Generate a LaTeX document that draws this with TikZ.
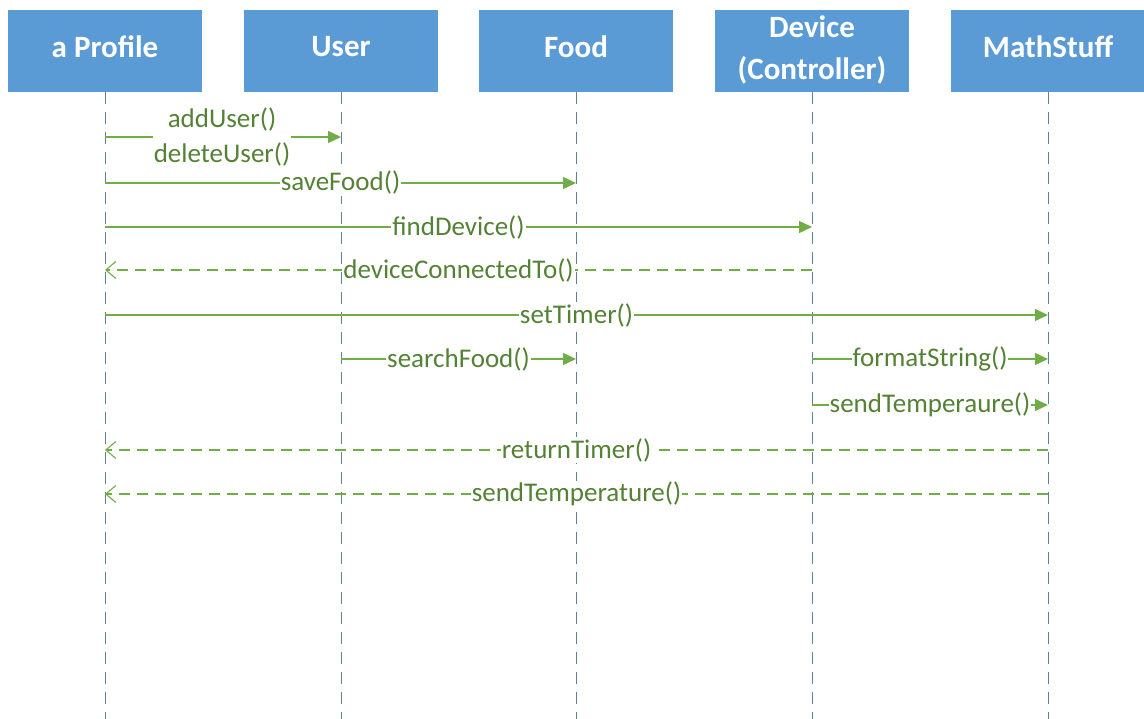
\documentclass[tikz,border=0pt]{standalone}
\usepackage{fontspec}
\setmainfont{Carlito}
\usetikzlibrary{arrows.meta}
\definecolor{boxblue}{HTML}{5B9BD5}
\definecolor{msggreen}{HTML}{70AD47}
\definecolor{txtgreen}{HTML}{548235}
\definecolor{lifec}{HTML}{5F8097}
\tikzset{
  head/.style={fill=boxblue, minimum width=194pt, minimum height=82pt, inner sep=0pt},
  htext/.style={text=white, font=\fontsize{31}{42}\selectfont\bfseries, inner sep=0pt, align=center},
  life/.style={draw=lifec, line width=1pt, dash pattern=on 12pt off 8pt},
  call/.style={draw=msggreen, line width=1.4pt, -{Triangle[length=13pt,width=12pt]}},
  ret/.style={draw=msggreen, line width=1.2pt, dash pattern=on 11pt off 7pt, -{Straight Barb[length=10pt,width=17pt,line width=1.1pt]}},
  lbl/.style={fill=white, text=txtgreen, font=\fontsize{27}{33}\selectfont, inner sep=1pt, align=center}
}
\begin{document}
\begin{tikzpicture}[x=1pt,y=-1pt]
\useasboundingbox (0,0) rectangle (1144,719);
\node[head] (prof) at (105,51) {};
\node[head] (user) at (341,51) {};
\node[head] (food) at (576,51) {};
\node[head] (dev) at (812,51) {};
\node[head] (math) at (1048,51) {};
\node[htext] (tprof) at (prof) [yshift=4pt] {a Profile};
\node[htext] (tuser) at (user) [yshift=4pt] {User};
\node[htext] (tfood) at (food) [yshift=4pt] {Food};
\node[htext] (tdev) at (dev) [yshift=1pt] {Device\\(Controller)};
\node[htext] (tmath) at (math) [yshift=4pt] {MathStuff};
% lifelines
\foreach \n/\x in {prof/105,user/341,food/576,dev/812,math/1048}{
  \coordinate (\n-end) at (\x,719);
  \draw[life] (\n.south) -- (\n-end);
}
% rows
\coordinate (r1) at (0,137);
\coordinate (r2) at (0,183);
\coordinate (r3) at (0,227);
\coordinate (r4) at (0,270);
\coordinate (r5) at (0,315);
\coordinate (r6) at (0,359);
\coordinate (r7) at (0,405);
\coordinate (r8) at (0,450);
\coordinate (r9) at (0,494);
\draw[call] (prof |- r1) -- node[lbl, pos=0.5, xshift=-1pt] (m1) {addUser()\\[2pt]deleteUser()} (user |- r1);
\draw[call] (prof |- r2) -- node[lbl] (m2) {saveFood()} (food |- r2);
\draw[call] (prof |- r3) -- node[lbl] (m3) {findDevice()} (dev |- r3);
\draw[ret] (dev |- r4) -- node[lbl] (m4) {deviceConnectedTo()} (prof |- r4);
\draw[call] (prof |- r5) -- node[lbl] (m5) {setTimer()} (math |- r5);
\draw[call] (user |- r6) -- node[lbl] (m6) {searchFood()} (food |- r6);
\draw[call] (dev |- r6) -- node[lbl] (m7) {formatString()} (math |- r6);
\draw[call] (dev |- r7) -- node[lbl] (m8) {sendTemperaure()} (math |- r7);
\draw[ret] (math |- r8) -- node[lbl] (m9) {returnTimer()} (prof |- r8);
\draw[ret] (math |- r9) -- node[lbl] (m10) {sendTemperature()} (prof |- r9);
\end{tikzpicture}
\end{document}
